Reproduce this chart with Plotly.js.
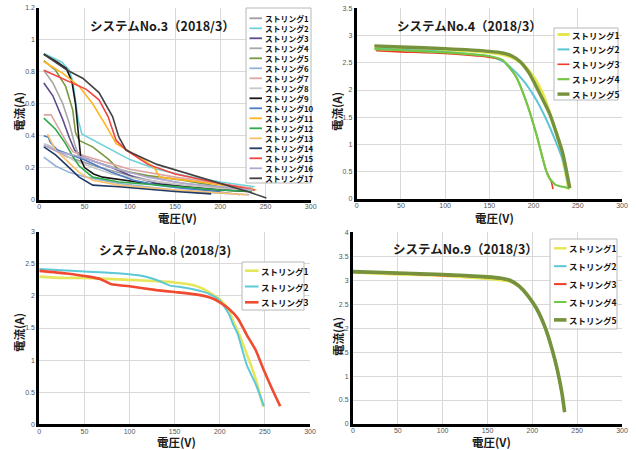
<!DOCTYPE html>
<html><head><meta charset="utf-8">
<script src="https://cdn.plot.ly/plotly-3.0.1.min.js"></script>
<style>body{margin:0;background:#fff}#chart{width:636px;height:450px}</style>
</head><body><div id="chart"></div>
<script>
// ---------- System No.3 (17 strings) ----------
var sys3Names = ['ストリング1','ストリング2','ストリング3','ストリング4','ストリング5','ストリング6','ストリング7','ストリング8','ストリング9','ストリング10','ストリング11','ストリング12','ストリング13','ストリング14','ストリング15','ストリング16','ストリング17'];
var sys3Colors = ['#9c9ca4','#6fd2da','#5e4a8c','#a8a8a8','#7a9840','#94b2da','#dda4a4','#c8c8c8','#161616','#4a7cc0','#ffb420','#2eaa4a','#fbc06a','#213a66','#f24444','#b2a8d2','#424242'];
var sys3V = [
  [5,12,30,67,100,122,160,200,222],
  [5,15,25,33,37,40,43,47,60,80,100,130,160,200,238],
  [5,15,26,33,39,50,80,105,130,160,200],
  [5,15,26,33,39,43,60,100,150,200,230],
  [5,18,29,37,40,44,59,77,88,120,160,200,238],
  [5,18,33,52,88,150,200,232],
  [5,13,18,29,37,52,100,150,200,236],
  [5,10,20,40,80,120,160,200,235],
  [5,20,30,36,40,42,44,46,50,60,70,120,160,200,230],
  [5,10,12,20,49,80,104,130,160,200],
  [5,26,44,59,74,85,100,115,127,133,178,240],
  [5,18,29,37,44,59,88,150,200,235],
  [9,18,33,44,59,88,150,200,230],
  [5,18,33,44,59,88,150,190],
  [5,33,52,66,76,85,96,120,150,200,238],
  [5,20,45,80,120,160,200,236],
  [5,31,48,66,81,88,96,103,130,160,200,230,251]
];
var sys3I = [
  [0.335,0.33,0.27,0.20,0.15,0.12,0.08,0.05,0.03],
  [0.915,0.89,0.86,0.81,0.74,0.62,0.50,0.41,0.37,0.31,0.25,0.19,0.15,0.11,0.08],
  [0.73,0.65,0.50,0.39,0.31,0.26,0.20,0.14,0.10,0.08,0.06],
  [0.81,0.73,0.60,0.48,0.35,0.28,0.24,0.17,0.11,0.07,0.05],
  [0.87,0.81,0.71,0.56,0.42,0.37,0.33,0.25,0.185,0.15,0.12,0.08,0.06],
  [0.265,0.21,0.17,0.14,0.10,0.06,0.04,0.03],
  [0.53,0.53,0.48,0.37,0.30,0.27,0.19,0.14,0.10,0.07],
  [0.35,0.34,0.31,0.24,0.16,0.12,0.09,0.07,0.05],
  [0.91,0.86,0.82,0.74,0.60,0.48,0.34,0.25,0.20,0.16,0.14,0.10,0.08,0.06,0.05],
  [0.40,0.39,0.36,0.31,0.25,0.17,0.12,0.09,0.07,0.05],
  [0.865,0.79,0.71,0.60,0.46,0.35,0.30,0.25,0.20,0.14,0.11,0.06],
  [0.51,0.44,0.35,0.27,0.21,0.14,0.11,0.08,0.06,0.05],
  [0.41,0.31,0.23,0.17,0.12,0.09,0.06,0.04,0.03],
  [0.33,0.28,0.20,0.14,0.09,0.08,0.05,0.035],
  [0.81,0.74,0.69,0.625,0.52,0.37,0.31,0.22,0.16,0.10,0.06],
  [0.34,0.30,0.27,0.20,0.14,0.10,0.08,0.06],
  [0.91,0.81,0.76,0.67,0.52,0.39,0.31,0.29,0.22,0.17,0.10,0.05,0.01]
];

// ---------- System No.4 (5 strings) ----------
var sys4Names = ['ストリング1','ストリング2','ストリング3','ストリング4','ストリング5'];
var sys4Colors = ['#e6e64e','#5cc6d6','#f03a26','#72c845','#76923c'];
var sys4V = [
  [20,50,100,150,170,180,190,200,210,220,230,240],
  [21,50,100,150,165,173,188,203,218,233,240],
  [22,50,100,150,165,180,191,203,214,220,222],
  [20,50,100,150,165,180,191,203,214,218,225,240],
  [20,50,100,150,165,175,185,195,205,218,226,233,241]
];
var sys4I = [
  [2.78,2.77,2.74,2.69,2.63,2.56,2.44,2.24,1.95,1.50,0.95,0.17],
  [2.76,2.74,2.70,2.62,2.53,2.43,2.18,1.82,1.33,0.72,0.20],
  [2.72,2.70,2.67,2.60,2.55,2.25,1.82,1.20,0.53,0.32,0.18],
  [2.75,2.73,2.69,2.62,2.55,2.25,1.82,1.20,0.53,0.38,0.26,0.20],
  [2.81,2.79,2.76,2.71,2.68,2.63,2.52,2.31,2.00,1.57,1.20,0.84,0.20]
];

// ---------- System No.8 (3 strings) ----------
var sys8Names = ['ストリング1','ストリング2','ストリング3'];
var sys8Colors = ['#e6e65a','#5cc8d8','#f04a30'];
var sys8V = [
  [0,25,50,100,130,150,170,180,190,200,210,215,220,231.6,240,248],
  [0,50,90,110,125,135,145,160,180,190,200,210,215,220,230,240,249],
  [0,30,55,68,80,100,130,150,175,190,200,210,220,230,240,248,258,267]
];
var sys8I = [
  [2.30,2.28,2.28,2.25,2.23,2.21,2.17,2.12,2.04,1.95,1.78,1.60,1.45,1.03,0.70,0.28],
  [2.42,2.38,2.35,2.32,2.27,2.22,2.16,2.13,2.07,2.02,1.93,1.72,1.55,1.40,0.92,0.62,0.28],
  [2.39,2.35,2.30,2.26,2.18,2.15,2.09,2.06,2.02,1.97,1.90,1.80,1.65,1.39,1.15,0.87,0.55,0.28]
];

// ---------- System No.9 (5 strings) ----------
var sys9Names = ['ストリング1','ストリング2','ストリング3','ストリング4','ストリング5'];
var sys9Colors = ['#e6e64e','#5cc6d6','#f03a26','#72c845','#76923c'];
var sys9V = [0,50,100,150,165,175,185,195,205,215,222,228,233,236];
var sys9I = [
  [3.16,3.12,3.09,3.03,3.00,2.97,2.86,2.66,2.38,1.96,1.55,1.10,0.63,0.25],
  [3.17,3.14,3.11,3.06,3.03,2.99,2.87,2.66,2.37,1.95,1.53,1.09,0.62,0.25],
  [3.17,3.14,3.10,3.06,3.03,2.99,2.88,2.68,2.40,1.98,1.56,1.12,0.65,0.25],
  [3.18,3.15,3.11,3.07,3.04,3.00,2.88,2.68,2.40,1.98,1.56,1.12,0.65,0.25],
  [3.18,3.15,3.12,3.07,3.04,3.00,2.88,2.68,2.40,1.98,1.56,1.12,0.65,0.25]
];

var xTickVals = [0,50,100,150,200,250,300];
var xTitle = '電圧(V)', yTitle = '電流(A)';

var W = 636, H = 450;
function PX(x){return x/W;}
function PY(y){return 1-y/H;}

var traces = [];
sys3Names.forEach(function(n,i){
  traces.push({x:sys3V[i], y:sys3I[i], name:n, xaxis:'x', yaxis:'y', mode:'lines',
    line:{color:sys3Colors[i], width:1.6}, showlegend:false});
});
var w4 = [3,2,1.6,2.2,3.4];
sys4Names.forEach(function(n,i){
  traces.push({x:sys4V[i], y:sys4I[i], name:n, xaxis:'x2', yaxis:'y2', mode:'lines',
    line:{color:sys4Colors[i], width:w4[i], shape:'spline', smoothing:0.5}, showlegend:false});
});
var w8 = [2.6,2,2.6];
sys8Names.forEach(function(n,i){
  traces.push({x:sys8V[i], y:sys8I[i], name:n, xaxis:'x3', yaxis:'y3', mode:'lines',
    line:{color:sys8Colors[i], width:w8[i], shape:'spline', smoothing:0.5}, showlegend:false});
});
var w9 = [2.4,2,2,2,3.6];
sys9Names.forEach(function(n,i){
  traces.push({x:sys9V, y:sys9I[i], name:n, xaxis:'x4', yaxis:'y4', mode:'lines',
    line:{color:sys9Colors[i], width:w9[i], shape:'spline', smoothing:0.5}, showlegend:false});
});

var JP = '"Noto Sans CJK JP", "Noto Sans", sans-serif';
var tickFont = {family:'"Liberation Sans", Arial, sans-serif', size:7, color:'#555'};

function xAx(dom, anchor){
  return {domain:dom, anchor:anchor, range:[0,300], tickvals:xTickVals, showgrid:true, gridcolor:'#d9d9d9', gridwidth:1,
    zeroline:false, showline:true, linecolor:'#000', linewidth:3, ticks:'', tickfont:tickFont, ticklabelstandoff:-2};
}
function yAx(dom, anchor, rng, dt){
  return {domain:dom, anchor:anchor, range:rng, dtick:dt, showgrid:true, gridcolor:'#d9d9d9', gridwidth:1,
    zeroline:false, showline:true, linecolor:'#000', linewidth:3, ticks:'', tickfont:tickFont};
}

var shapes = [], annotations = [];
function addLegend(names, colors, widths, box, y0, step, sx0, sx1, tx, fs){
  shapes.push({type:'rect', xref:'paper', yref:'paper', x0:PX(box[0]), x1:PX(box[1]), y0:PY(box[2]), y1:PY(box[3]),
    line:{color:'#b8b8b8', width:1}, fillcolor:'#fff', layer:'above'});
  names.forEach(function(n,i){
    var y = y0 + i*step;
    shapes.push({type:'line', xref:'paper', yref:'paper', x0:PX(sx0), x1:PX(sx1), y0:PY(y), y1:PY(y),
      line:{color:colors[i], width:widths[i]}, layer:'above'});
    annotations.push({xref:'paper', yref:'paper', x:PX(tx), y:PY(y), xanchor:'left', yanchor:'middle', showarrow:false,
      text:'<b>'+n+'</b>', font:{family:JP, size:fs, color:'#111'}});
  });
}
var w3 = sys3Names.map(function(){return 1.8;});
addLegend(sys3Names, sys3Colors, w3, [246,311,8,183], 18.3, 10, 249.5, 262, 262.5, 7.8);
addLegend(sys4Names, sys4Colors, w4, [554,618,28,100], 34.5, 14.9, 557.5, 569.5, 570, 8.5);
addLegend(sys8Names, sys8Colors, w8, [242,304,262,310], 270.7, 15.8, 245, 258.5, 259, 8.5);
addLegend(sys9Names, sys9Colors, w9, [550,617,239,329], 248.3, 17.9, 554, 566.5, 567, 8.5);

function label(t, cx, cy, size, angle){
  annotations.push({xref:'paper', yref:'paper', x:PX(cx), y:PY(cy), xanchor:'center', yanchor:'middle', showarrow:false,
    textangle:angle||0, borderpad:0, text:'<b>'+t+'</b>', font:{family:JP, size:size, color:'#1a1a1a'}});
}
label('システムNo.3（2018/3）', 162, 25, 12.5);
label('システムNo.4（2018/3）', 469, 25, 12.5);
label('システムNo.8 (2018/3)', 165, 249, 12.5);
label('システムNo.9（2018/3）', 466, 248, 12.5);
// axis titles
label(xTitle, 177, 218.5, 11.5);
label(xTitle, 494, 218.5, 11.5);
label(xTitle, 176, 442.4, 11.5);
label(xTitle, 491, 442.4, 11.5);
label(yTitle, 19, 112, 11.5, -90);
label(yTitle, 337, 112, 11.5, -90);
label(yTitle, 19, 333, 11.5, -90);
label(yTitle, 338, 337, 11.5, -90);

var layout = {
  width:W, height:H, margin:{l:0,r:0,t:0,b:0}, paper_bgcolor:'#fff', plot_bgcolor:'#fff', showlegend:false,
  font:{family:JP},
  xaxis: xAx([PX(39.3),PX(310.7)], 'y'),
  yaxis: yAx([PY(199.5),PY(8)], 'x', [0,1.2], 0.2),
  xaxis2: xAx([PX(356.7),PX(622)], 'y2'),
  yaxis2: yAx([PY(199),PY(8.3)], 'x2', [0,3.5], 0.5),
  xaxis3: xAx([PX(39.3),PX(310)], 'y3'),
  yaxis3: yAx([PY(424.3),PY(231.7)], 'x3', [0,3], 0.5),
  xaxis4: xAx([PX(353),PX(622)], 'y4'),
  yaxis4: yAx([PY(424),PY(232.3)], 'x4', [0,4], 0.5),
  shapes: shapes, annotations: annotations
};
Plotly.newPlot('chart', traces, layout, {staticPlot:true, displayModeBar:false});
</script></body></html>
